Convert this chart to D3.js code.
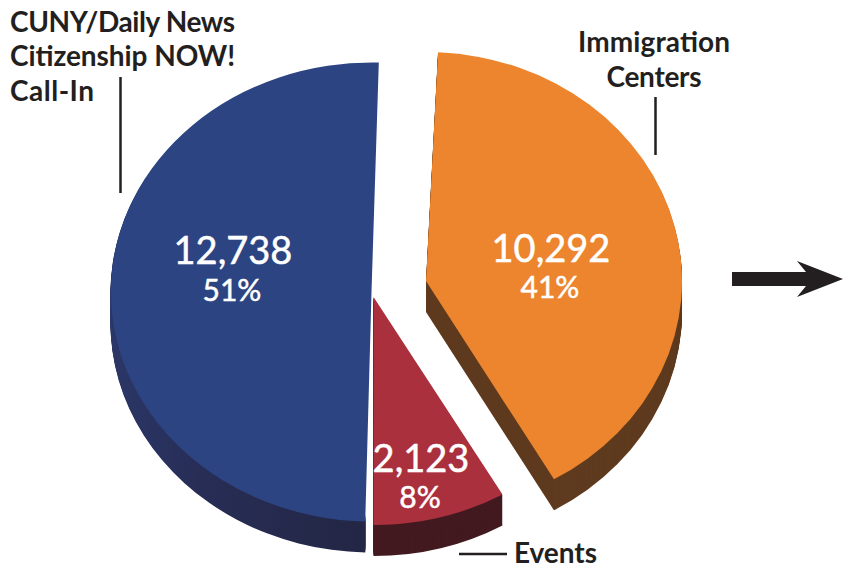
<!DOCTYPE html>
<html>
<head>
<meta charset="utf-8">
<script src="https://cdn.jsdelivr.net/npm/d3@7"></script>
<style>
  html, body { margin: 0; padding: 0; background: #fff; }
  svg { display: block; }
  text { font-family: Lato, "Open Sans", sans-serif; }
</style>
</head>
<body>
<svg id="chart" width="843" height="568"></svg>
<script>
const categories = ['Immigration Centers', 'Events', 'CUNY/Daily News Citizenship NOW! Call-In'];
const values = [10292, 2123, 12738];
const percents = ['41%', '8%', '51%'];
const topColors = ['#ec852e', '#ab303e', '#2c4482'];
const wallColors = ['#5f3b1f', '#431a20', 'url(#blueWall)'];

// exploded centres and radii, the slices are not all the same size in the picture
const centers = [[426, 281], [373.5, 297], [371.5, 292]];
const radiiX = [256, 258, 261];
const radiiY = [229, 228, 229.5];
const deg = Math.PI / 180;
const trimStart = [0, 0, 1 * deg];
const trimEnd = [0, 0.4 * deg, 1.1 * deg];
const wallInner = [0, 0, 0.97];
const wallStop = [Infinity, Infinity, 300 * deg]; // back of the blue rim is hidden anyway
const depth = 31;

const valueLabelPos = [[551, 262], [421, 472], [233, 264]];
const percentLabelPos = [[550, 298], [420, 508], [232, 301]];

const fmt = d3.format(',');
const svg = d3.select('#chart');

// gradient runs in the unit space of the squashed wedge
const grad = svg.append('defs').append('linearGradient')
  .attr('id', 'blueWall')
  .attr('gradientUnits', 'userSpaceOnUse')
  .attr('x1', -1).attr('x2', 0).attr('y1', 0).attr('y2', 0);
grad.append('stop').attr('offset', 0).attr('stop-color', '#2b3768');
grad.append('stop').attr('offset', 0.35).attr('stop-color', '#272d55');
grad.append('stop').attr('offset', 1).attr('stop-color', '#232644');

const pie = d3.pie().sort(null).startAngle(2.7 * deg).endAngle(362.7 * deg);
const slices = pie(values);

// arc on a unit circle, squashed by the group transform to get the tilted look
const arc = d3.arc().outerRadius(1);

function sliceGroup(i, dy) {
  return `translate(${centers[i][0]},${centers[i][1] + dy}) scale(${radiiX[i]},${radiiY[i]})`;
}

slices.forEach((d, i) => {
  const a = { startAngle: d.startAngle + trimStart[i], endAngle: d.endAngle - trimEnd[i] };
  // side wall: same wedge stacked downwards
  svg.append('g').attr('class', 'wall')
    .selectAll('path').data(d3.range(depth, 0, -1)).join('path')
    .attr('d', arc({ ...a, endAngle: Math.min(a.endAngle, wallStop[i]), innerRadius: wallInner[i] }))
    .attr('transform', (dy) => sliceGroup(i, dy))
    .attr('fill', wallColors[i]);
  svg.append('path')
    .attr('d', arc({ ...a, innerRadius: 0 }))
    .attr('transform', sliceGroup(i, 0))
    .attr('fill', topColors[i]);
});

const white = svg.append('g').attr('fill', '#fff').attr('stroke', '#fff').attr('stroke-width', 0.5).attr('text-anchor', 'middle');
white.selectAll('text.val').data(values).join('text')
  .attr('class', 'val')
  .attr('x', (d, i) => valueLabelPos[i][0])
  .attr('y', (d, i) => valueLabelPos[i][1])
  .attr('font-size', 38)
  .text((d) => fmt(d));
white.selectAll('text.pct').data(percents).join('text')
  .attr('class', 'pct')
  .attr('x', (d, i) => percentLabelPos[i][0])
  .attr('y', (d, i) => percentLabelPos[i][1])
  .attr('font-size', 30)
  .text((d) => d);

const ink = '#231f20';
const titles = [
  { t: 'CUNY/Daily News', x: 10, y: 32, a: 'start', w: 225 },
  { t: 'Citizenship NOW!', x: 10, y: 66, a: 'start', w: 225 },
  { t: 'Call-In', x: 10, y: 101, a: 'start', w: 84 },
  { t: 'Immigration', x: 654, y: 52, a: 'middle', w: 152 },
  { t: 'Centers', x: 654, y: 87, a: 'middle', w: 95 },
  { t: 'Events', x: 514, y: 563, a: 'start', w: 83 }
];
svg.append('g').selectAll('text').data(titles).join('text')
  .attr('x', (d) => d.x)
  .attr('y', (d) => d.y)
  .attr('text-anchor', (d) => d.a)
  .attr('textLength', (d) => d.w)
  .attr('font-size', 28)
  .attr('font-weight', 700)
  .attr('fill', ink)
  .text((d) => d.t);

const leaders = [[120.5, 77, 120.5, 193], [655.5, 97, 655.5, 155], [459, 554, 507, 554]];
svg.append('g').selectAll('line').data(leaders).join('line')
  .attr('x1', (d) => d[0]).attr('y1', (d) => d[1])
  .attr('x2', (d) => d[2]).attr('y2', (d) => d[3])
  .attr('stroke', ink).attr('stroke-width', 2.5);

// arrow to the right of the pie
const arrow = d3.path();
arrow.moveTo(732, 272);
arrow.lineTo(806, 272);
arrow.lineTo(797, 261);
arrow.lineTo(843, 279);
arrow.lineTo(797, 297);
arrow.lineTo(806, 286);
arrow.lineTo(732, 286);
arrow.closePath();
svg.append('path').attr('d', arrow.toString()).attr('fill', ink);
</script>
</body>
</html>
